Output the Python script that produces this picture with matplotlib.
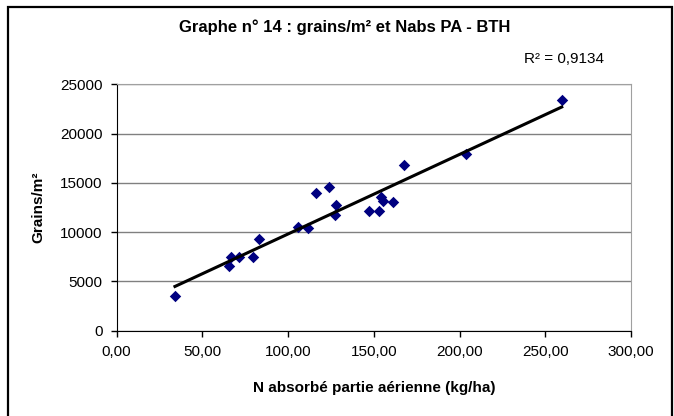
import numpy as np
import matplotlib
matplotlib.use('Agg')
import matplotlib.pyplot as plt
from matplotlib.patches import Rectangle

plt.rcParams['font.family'] = ['Liberation Sans', 'DejaVu Sans']

# N absorbé partie aérienne (kg/ha)
n_abs = [34.0, 65.7, 66.5, 71.5, 79.7, 83.2, 106.0, 111.4, 116.5, 123.7,
         128.0, 127.4, 147.2, 153.2, 154.2, 155.2, 161.4, 167.6, 203.8, 259.6]
# grains/m²
grains = [3530, 6600, 7450, 7510, 7510, 9340, 10490, 10420, 13940, 14580,
          12760, 11770, 12120, 12120, 13540, 13160, 13030, 16840, 17930, 23400]

x_ticks = [0, 50, 100, 150, 200, 250, 300]
y_ticks = [0, 5000, 10000, 15000, 20000, 25000]
r2_text = 'R² = 0,9134'

fig = plt.figure(figsize=(6.74, 4.16), dpi=100)
ax = fig.add_axes([0.1731, 0.2048, 0.7631, 0.5926])

# cadre extérieur
fig.patches.append(Rectangle((8 / 674, -0.05), 664 / 674, 1.05 - 7 / 416,
                             transform=fig.transFigure, fill=False,
                             edgecolor='black', linewidth=1.6))

ax.scatter(n_abs, grains, marker='D', s=34, color='#000080', zorder=3,
           linewidths=0)

# courbe de tendance linéaire
a, b = np.polyfit(n_abs, grains, 1)
xs = np.array([min(n_abs), max(n_abs)])
ax.plot(xs, a * xs + b, color='black', linewidth=2.2, zorder=4)

ax.set_xlim(0, 300)
ax.set_ylim(0, 25000)
ax.set_xticks(x_ticks)
ax.set_xticklabels([('%.2f' % v).replace('.', ',') for v in x_ticks])
ax.set_yticks(y_ticks)
ax.grid(axis='y', color='#808080', linewidth=1)
ax.set_axisbelow(True)

for s in ['top', 'right']:
    ax.spines[s].set_color('#a0a0a0')
for s in ['left', 'bottom']:
    ax.spines[s].set_color('black')
ax.tick_params(direction='out', length=4, width=1, labelsize=11)
ax.tick_params(axis='x', pad=6)
ax.tick_params(axis='y', pad=6)

ax.set_xlabel('N absorbé partie aérienne (kg/ha)', fontsize=11,
              fontweight='bold', labelpad=16)
ax.set_ylabel('Grains/m²', fontsize=11, fontweight='bold', labelpad=11)

fig.text(0.512, 0.935, 'Graphe n° 14 : grains/m² et Nabs PA - BTH',
         ha='center', va='center', fontsize=12, fontweight='bold')
fig.text(0.837, 0.858, r2_text, ha='center', va='center', fontsize=11)

fig.savefig('out.png', dpi=100)
